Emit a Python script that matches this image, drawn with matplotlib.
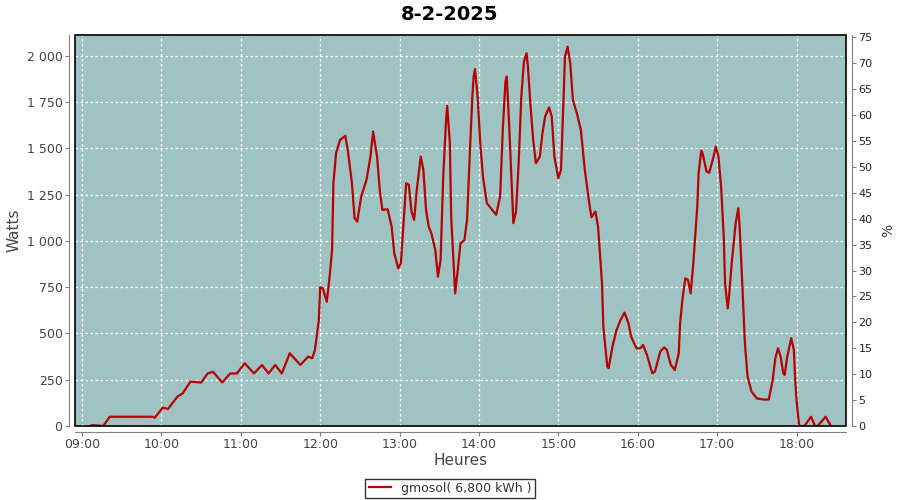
import numpy as np
import pandas as pd
import matplotlib
matplotlib.use('Agg')
import matplotlib.pyplot as plt
import matplotlib.dates as mdates
from matplotlib.ticker import FuncFormatter, MultipleLocator
from matplotlib.patches import Rectangle

day = '2025-02-08'

times = ['09:06', '09:08', '09:16', '09:21', '09:53', '09:55', '10:01', '10:05', '10:12', '10:16',
         '10:22', '10:30', '10:35', '10:39', '10:46', '10:52', '10:57', '11:03', '11:10', '11:16',
         '11:21', '11:26', '11:31', '11:37', '11:45', '11:51', '11:54', '11:56', '11:59', '12:00',
         '12:02', '12:05', '12:07', '12:09', '12:10', '12:12', '12:15', '12:19', '12:21', '12:24',
         '12:26', '12:28', '12:31', '12:35', '12:38', '12:40', '12:43', '12:45', '12:47', '12:51',
         '12:54', '12:56', '12:59', '13:01', '13:03', '13:05', '13:07', '13:09', '13:11', '13:13',
         '13:16', '13:18', '13:20', '13:22', '13:24', '13:27', '13:29', '13:31', '13:33', '13:35',
         '13:36', '13:38', '13:39', '13:41', '13:42', '13:44', '13:46', '13:49', '13:51', '13:53',
         '13:55', '13:56', '13:57', '13:59', '14:01', '14:03', '14:06', '14:08', '14:13', '14:16',
         '14:18', '14:20', '14:21', '14:23', '14:25', '14:26', '14:28', '14:30', '14:32', '14:34',
         '14:36', '14:37', '14:39', '14:41', '14:43', '14:46', '14:48', '14:50', '14:53', '14:55',
         '14:57', '15:00', '15:02', '15:04', '15:05', '15:07', '15:09', '15:11', '15:14', '15:17',
         '15:20', '15:23', '15:25', '15:28', '15:30', '15:33', '15:34', '15:37', '15:38', '15:41',
         '15:44', '15:47', '15:50', '15:53', '15:55', '15:59', '16:02', '16:04', '16:07', '16:11',
         '16:13', '16:17', '16:20', '16:22', '16:25', '16:28', '16:31', '16:32', '16:34', '16:36',
         '16:38', '16:40', '16:42', '16:45', '16:46', '16:48', '16:49', '16:52', '16:54', '16:57',
         '16:59', '17:01', '17:03', '17:05', '17:06', '17:08', '17:09', '17:11', '17:14', '17:16',
         '17:17', '17:19', '17:21', '17:23', '17:26', '17:30', '17:35', '17:39', '17:42', '17:44',
         '17:46', '17:48', '17:50', '17:51', '17:53', '17:56', '17:58', '17:59', '18:00', '18:02',
         '18:06', '18:11', '18:14', '18:16', '18:22', '18:26']

watts = [0, 5, 0, 50, 50, 45, 99, 92, 158, 176,
         240, 235, 284, 293, 235, 284, 284, 339, 284, 330,
         284, 330, 284, 393, 330, 375, 366, 411, 573, 750,
         744, 672, 798, 951, 1312, 1474, 1546, 1568, 1483, 1312,
         1123, 1105, 1240, 1330, 1456, 1591, 1456, 1276, 1168, 1171,
         1078, 933, 852, 879, 1096, 1312, 1303, 1159, 1114, 1276,
         1456, 1384, 1168, 1078, 1042, 951, 807, 897, 1348, 1636,
         1730, 1528, 1132, 861, 717, 843, 987, 1005, 1114, 1456,
         1780, 1888, 1928, 1780, 1528, 1348, 1204, 1186, 1141, 1240,
         1600, 1861, 1888, 1600, 1258, 1096, 1159, 1420, 1780, 1969,
         2014, 1942, 1726, 1546, 1420, 1456, 1582, 1672, 1722, 1672,
         1456, 1339, 1384, 1780, 1996, 2050, 1960, 1762, 1690, 1600,
         1384, 1222, 1128, 1159, 1078, 771, 537, 321, 312, 433,
         519, 573, 613, 555, 483, 420, 420, 438, 384, 285,
         294, 402, 425, 411, 330, 303, 393, 555, 699, 798,
         789, 717, 879, 1186, 1366, 1488, 1474, 1375, 1369, 1447,
         1510, 1456, 1294, 1024, 771, 636, 699, 879, 1096, 1177,
         1078, 771, 447, 267, 186, 149, 143, 143, 249, 366,
         420, 375, 285, 276, 375, 474, 411, 249, 141, 0,
         0, 50, 0, 0, 50, 0]

x = pd.to_datetime([day + ' ' + t for t in times])
w = np.array(watts)

peak = 2800.0  # 100 %

fig = plt.figure(figsize=(9, 5), dpi=100)
ax = fig.add_axes([75 / 900, 74 / 500, 771 / 900, 391 / 500])
ax.set_facecolor('#9fc3c2')

ax.plot(x, w, color='#b80000', lw=1.6, label='gmosol( 6,800 kWh )')

x0 = pd.Timestamp(day + ' 08:54:42')
x1 = pd.Timestamp(day + ' 18:37:24')
ax.set_xlim(x0, x1)
ax.set_ylim(0, 2113)
ax.yaxis.set_major_locator(MultipleLocator(250))
ax.yaxis.set_major_formatter(FuncFormatter(lambda v, p: f'{int(v):,}'.replace(',', ' ')))
ax.xaxis.set_major_locator(mdates.HourLocator())
ax.xaxis.set_major_formatter(mdates.DateFormatter('%H:%M'))

ax.grid(True, color='white', linestyle=(0, (2, 2)), lw=0.9)

for s in ['left', 'bottom']:
    ax.spines[s].set_position(('outward', 4))
    ax.spines[s].set_color('#808080')
for s in ['top', 'right']:
    ax.spines[s].set_visible(False)
ax.tick_params(colors='#444444', labelsize=9, length=3, pad=2)
ax.tick_params(axis='both', color='#808080')
ax.add_patch(Rectangle((0, 0), 1, 1, transform=ax.transAxes, fill=False,
                       edgecolor='black', lw=1.2, clip_on=False, zorder=5))

ax2 = ax.twinx()
ax2.set_ylim(0, 2113 / peak * 100)
ax2.yaxis.set_major_locator(MultipleLocator(5))
for s in ['left', 'top', 'bottom']:
    ax2.spines[s].set_visible(False)
ax2.spines['right'].set_position(('outward', 4))
ax2.spines['right'].set_color('#808080')
ax2.tick_params(colors='#222222', labelsize=8, length=3, pad=2)
ax2.tick_params(axis='y', color='#808080')
ax2.set_ylabel('%', fontsize=10, color='#333333', labelpad=6)

ax.set_xlabel('Heures', fontsize=11, color='#444444', labelpad=1)
ax.set_ylabel('Watts', fontsize=11, color='#444444', labelpad=4)
fig.suptitle('8-2-2025', fontsize=14, fontweight='bold', y=0.99)

leg = fig.legend(loc='lower center', bbox_to_anchor=(0.5, -0.008), fancybox=False,
                 edgecolor='black', fontsize=9, handlelength=1.8, borderpad=0.25)
leg.get_frame().set_linewidth(1.0)
for t in leg.get_texts():
    t.set_color('#333333')

fig.savefig('out.png', dpi=100)
